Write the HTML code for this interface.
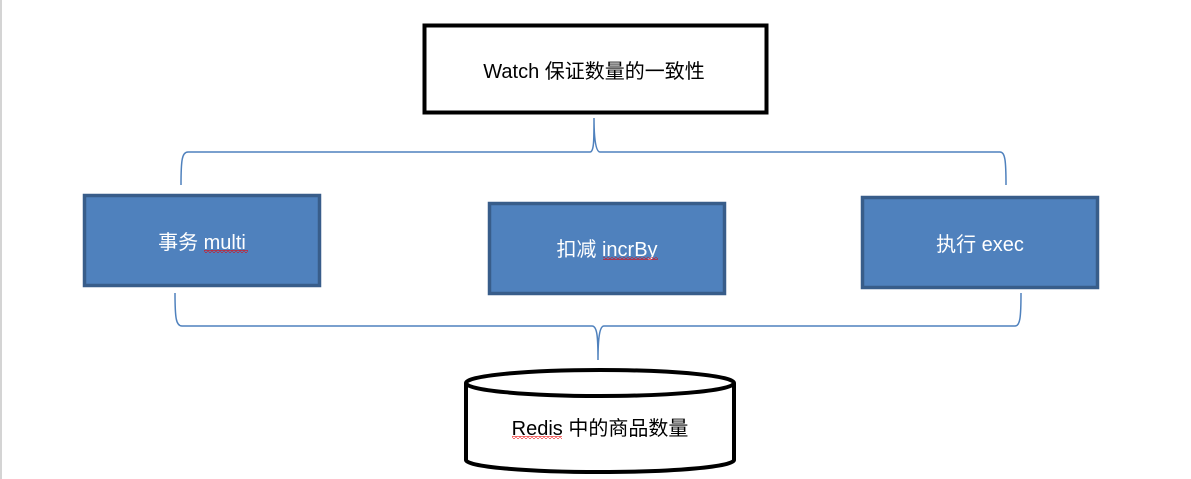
<!DOCTYPE html>
<html><head><meta charset="utf-8"><style>
html,body{margin:0;padding:0;background:#fff;width:1191px;height:479px;overflow:hidden}
text{font-family:"Liberation Sans","Noto Sans CJK SC",sans-serif;font-size:20px}
</style></head><body>
<svg width="1191" height="479" xmlns="http://www.w3.org/2000/svg">
<defs><pattern id="w" width="4" height="3" patternUnits="userSpaceOnUse"><path d="M0,2.5 L2,0.5 L4,2.5" fill="none" stroke="#e00" stroke-width="0.8"/></pattern></defs>
<rect x="0" y="0" width="2" height="479" fill="#d4d4d4"/>
<rect x="424.5" y="25.5" width="342" height="87" fill="#fff" stroke="#000" stroke-width="4"/>
<text x="594" y="78" text-anchor="middle" fill="#000">Watch 保证数量的一致性</text>
<path d="M181,185 C181,160 182,152 188,152 L590,152 C594,152 594,140 594,118 C594,140 596,152 600,152 L1000,152 C1005,152 1006,160 1006,185" fill="none" stroke="#4F81BD" stroke-width="1.5"/>
<rect x="84.5" y="195.5" width="235" height="90" fill="#4F81BD" stroke="#385D8A" stroke-width="3.5"/>
<text x="202" y="249" text-anchor="middle" fill="#fff">事务 multi</text>
<rect x="204" y="250" width="44" height="3" fill="url(#w)"/>
<rect x="489.5" y="203.5" width="235" height="90" fill="#4F81BD" stroke="#385D8A" stroke-width="3.5"/>
<text x="607" y="256" text-anchor="middle" fill="#fff">扣减 incrBy</text>
<rect x="603" y="257" width="55" height="3" fill="url(#w)"/>
<rect x="862.5" y="197.5" width="235" height="90" fill="#4F81BD" stroke="#385D8A" stroke-width="3.5"/>
<text x="980" y="251" text-anchor="middle" fill="#fff">执行 exec</text>
<path d="M175,293 C175,318 176,326 182,326 L592,326 C597,326 598,336 598,360 C598,336 600,326 604,326 L1015,326 C1020,326 1021,318 1021,293" fill="none" stroke="#4F81BD" stroke-width="1.5"/>
<path d="M466,383 L466,460 A134,12 0 0 0 734,460 L734,383" fill="#fff" stroke="#000" stroke-width="4"/>
<ellipse cx="600" cy="383" rx="134" ry="13" fill="#fff" stroke="#000" stroke-width="4"/>
<text x="600" y="435" text-anchor="middle" fill="#000">Redis 中的商品数量</text>
<rect x="512" y="436" width="50" height="3" fill="url(#w)"/>
</svg>
</body></html>
